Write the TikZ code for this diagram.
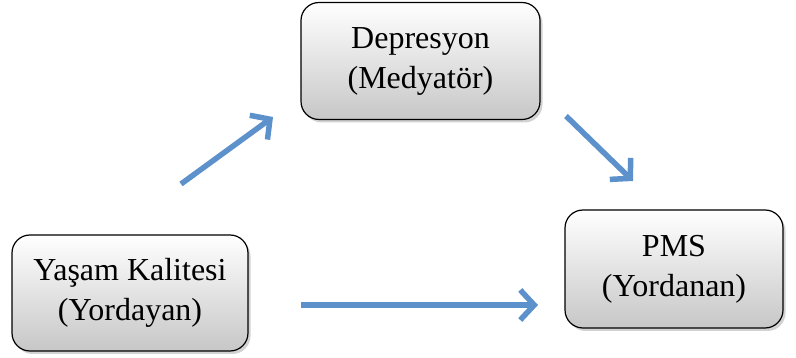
\documentclass[tikz,border=0pt]{standalone}
\usepackage{fontspec}
\setmainfont{Liberation Serif}
\usetikzlibrary{arrows.meta,shadows}
\definecolor{arrowblue}{RGB}{92,145,204}
\tikzset{
  box/.style={draw, line width=1.2pt, rounded corners=18pt, top color=white, bottom color=black!22,
    drop shadow={shadow xshift=2.5pt, shadow yshift=-3pt, fill=black!35, opacity=.5},
    align=center, font=\fontsize{32}{40}\selectfont},
  link/.style={draw=arrowblue, line width=5.5pt, -{Straight Barb[length=14pt, width=30pt, line width=5.5pt]}}
}
\begin{document}
\begin{tikzpicture}[x=1pt, y=-1pt]
		\useasboundingbox (0,0) rectangle (796,358);
		\node[box, minimum width=239pt, minimum height=117pt] (dep) at (420.5,61) {Depresyon\\(Medyatör)};
		\node[box, minimum width=236pt, minimum height=116pt] (yk) at (130,293) {Yaşam Kalitesi\\(Yordayan)};
		\node[box, minimum width=218pt, minimum height=118pt] (pms) at (674,269) {PMS\\(Yordanan)};
		
		\coordinate (a1) at (181,184);
		\coordinate (a2) at (273,117);
		\coordinate (b1) at (566,116);
		\coordinate (b2) at (633,181);
		\coordinate (c1) at (301,305);
		\coordinate (c2) at (538,305);
		
		\draw[link] (a1) -- (a2);
		\draw[link] (b1) -- (b2);
		\draw[link] (c1) -- (c2);
	\end{tikzpicture}
\end{document}
